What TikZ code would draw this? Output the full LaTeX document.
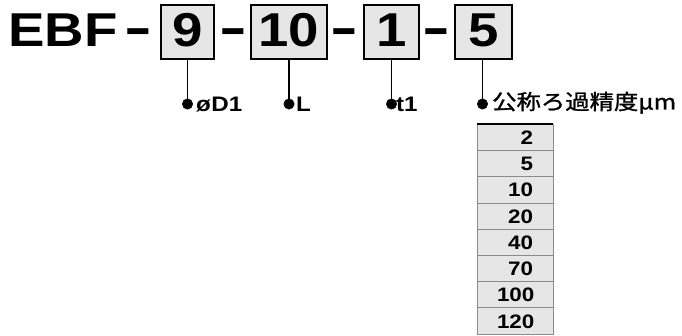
\documentclass[tikz,border=0pt]{standalone}
\usepackage{fontspec}
\setmainfont{Liberation Sans}[FakeStretch=1.15]
\newfontfamily\cjkfont{Noto Sans CJK JP}[FakeStretch=1.16,FakeBold=1.2]
\definecolor{boxgray}{HTML}{E6E6E6}
\definecolor{rowline}{HTML}{8A8A8A}
\newcommand{\sepdash}{\scalebox{1}[1.6]{–}}
\begin{document}
\begin{tikzpicture}
[x=1pt,y=-1pt,
code/.style = {inner sep=0pt,font=\bfseries\fontsize{47.5}{50}\selectfont},
sep/.style = {inner sep=0pt,font=\bfseries\fontsize{37}{40}\selectfont},
digit/.style = {draw, line width=1.3pt, fill=boxgray, inner sep=0pt, minimum height=54pt,
  text height=34pt, text depth=4pt, font=\bfseries\fontsize{47.5}{50}\selectfont},
point/.style = {draw, circle, fill = black, inner sep = 0pt, minimum size=10.5pt},
lab/.style = {inner sep=0pt, anchor=base west, font=\bfseries\fontsize{21}{23}\selectfont},
row/.style = {draw=rowline, line width=0.8pt, fill=boxgray, minimum width=76pt, minimum height=26.2pt,
  inner xsep=0pt, text width=36pt, align=right, text height=14pt, text depth=0pt,
  font=\bfseries\fontsize{19.5}{21}\selectfont},]
\useasboundingbox (0,0) rectangle (682,336);
% model code
\node (EBF) at (8,47)[code,anchor=base west] {EBF};
\node (s1) at (138,48)[sep,anchor=base] {\sepdash};
\node (B9) at (187.5,32)[digit,minimum width=53pt] {9};
\node (s2) at (233.5,48)[sep,anchor=base] {\sepdash};
\node (B10) at (289,32)[digit,minimum width=76pt] {10};
\node (s3) at (344,48)[sep,anchor=base] {\sepdash};
\node (B1) at (391.5,32)[digit,minimum width=55pt] {1};
\node (s4) at (436.5,48)[sep,anchor=base] {\sepdash};
\node (B5) at (483.5,32)[digit,minimum width=57pt] {5};
% leaders
\node (P9) at (187.5,104)[point] {};
\node (P10) at (289,104)[point] {};
\node (P1) at (391.5,104)[point] {};
\node (P5) at (482.5,104)[point] {};
\draw[line width=1.3pt] (B9)--(P9);
\draw[line width=1.3pt] (B10)--(P10);
\draw[line width=1.3pt] (B1)--(P1);
\draw[line width=1.3pt] (B5.south -| P5)--(P5);
\node (D1) at (196,112)[lab] {ø\kern0.5pt D1};
\node (L) at (296,112)[lab] {L};
\node (T1) at (396,112)[lab] {t1};
\node (MU) at (492,109.5)[lab,font=\cjkfont\fontsize{21}{23}\selectfont] {公称ろ過精度μm};
% filter rating table
\node (R2) at (515,137.6)[row] {2};
\node (R5) at (515,163.8)[row] {5};
\node (R10) at (515,190)[row] {10};
\node (R20) at (515,216.2)[row] {20};
\node (R40) at (515,242.4)[row] {40};
\node (R70) at (515,268.6)[row] {70};
\node (R100) at (515,294.8)[row] {100};
\node (R120) at (515,321)[row] {120};
\draw[line width=1.6pt] (R2.north west)--(R2.north east);
\end{tikzpicture}
\end{document}
